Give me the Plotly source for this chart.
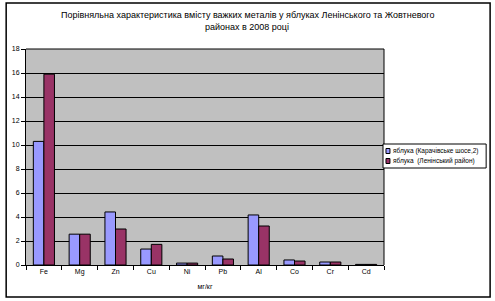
import plotly.graph_objects as go

categories = ["Fe", "Mg", "Zn", "Cu", "Ni", "Pb", "Al", "Co", "Cr", "Cd"]
karachivske = [10.3, 2.57, 4.42, 1.33, 0.16, 0.75, 4.17, 0.42, 0.25, 0.05]
leninskyi = [15.9, 2.57, 3.0, 1.72, 0.16, 0.5, 3.25, 0.33, 0.25, 0.05]
series_names = ["яблука (Карачівське шосе,2)", "яблука  (Ленінський район)"]
series_colors = ["#9999FF", "#993366"]
y_ticks = [0, 2, 4, 6, 8, 10, 12, 14, 16, 18]
title_lines = ["Порівняльна характеристика вмісту важких металів у яблуках Ленінського та Жовтневого",
               "районах в 2008 році"]

W, H = 495, 301
L, R, T, B = 23, 111, 49, 36
pw, ph = W - L - R, H - T - B

def px_x(p):
    return (p - L) / pw

def px_y(p):
    return (H - B - p) / ph

font = "Liberation Sans, Arial, sans-serif"

fig = go.Figure()
for vals, name, col in zip([karachivske, leninskyi], series_names, series_colors):
    fig.add_trace(go.Bar(x=categories, y=vals, name=name, showlegend=False,
                         marker=dict(color=col, line=dict(color="black", width=1))))

annotations = []
for i, line in enumerate(title_lines):
    annotations.append(dict(text=line, x=px_x(246), y=px_y(15 + 12 * i), xref="paper", yref="paper",
                            xanchor="center", yanchor="middle", showarrow=False,
                            font=dict(family=font, size=9, color="black")))

shapes = [
    dict(type="rect", xref="paper", yref="paper", x0=px_x(3), x1=px_x(491), y0=px_y(297), y1=px_y(3),
         line=dict(color="black", width=1.5), fillcolor="rgba(0,0,0,0)", layer="below"),
    dict(type="line", xref="paper", yref="paper", x0=1, x1=1, y0=0, y1=1,
         line=dict(color="black", width=1)),
    dict(type="line", xref="paper", yref="paper", x0=0, x1=1, y0=1, y1=1,
         line=dict(color="black", width=1)),
    # legend box
    dict(type="rect", xref="paper", yref="paper", x0=px_x(383), x1=px_x(487), y0=px_y(168), y1=px_y(144),
         line=dict(color="black", width=1), fillcolor="white"),
]
for i, (name, col) in enumerate(zip(series_names, series_colors)):
    yc = 151 + 10 * i
    shapes.append(dict(type="rect", xref="paper", yref="paper", x0=px_x(386), x1=px_x(390),
                       y0=px_y(yc + 2.5), y1=px_y(yc - 2.5),
                       line=dict(color="black", width=1), fillcolor=col))
    annotations.append(dict(text=name, x=px_x(391), y=px_y(yc), xref="paper", yref="paper",
                            xanchor="left", yanchor="middle", showarrow=False,
                            font=dict(family=font, size=6.5, color="black")))

fig.update_layout(
    width=W, height=H,
    margin=dict(l=L, r=R, t=T, b=B),
    paper_bgcolor="white", plot_bgcolor="#C0C0C0",
    barmode="group", bargap=0.41, bargroupgap=0,
    font=dict(family=font, size=7, color="black"),
    showlegend=False,
    xaxis=dict(showline=True, linecolor="black", linewidth=1, ticks="outside", tickson="boundaries",
               ticklen=4, tickcolor="black", showgrid=False,
               title=dict(text="мг/кг", font=dict(family=font, size=7), standoff=8)),
    yaxis=dict(range=[0, 18], tickvals=y_ticks, showline=True, linecolor="black", linewidth=1,
               ticks="outside", ticklen=4, tickcolor="black", showgrid=True, gridcolor="black",
               gridwidth=1, zeroline=False),
    shapes=shapes,
    annotations=annotations,
)

fig.write_html("out.html")
